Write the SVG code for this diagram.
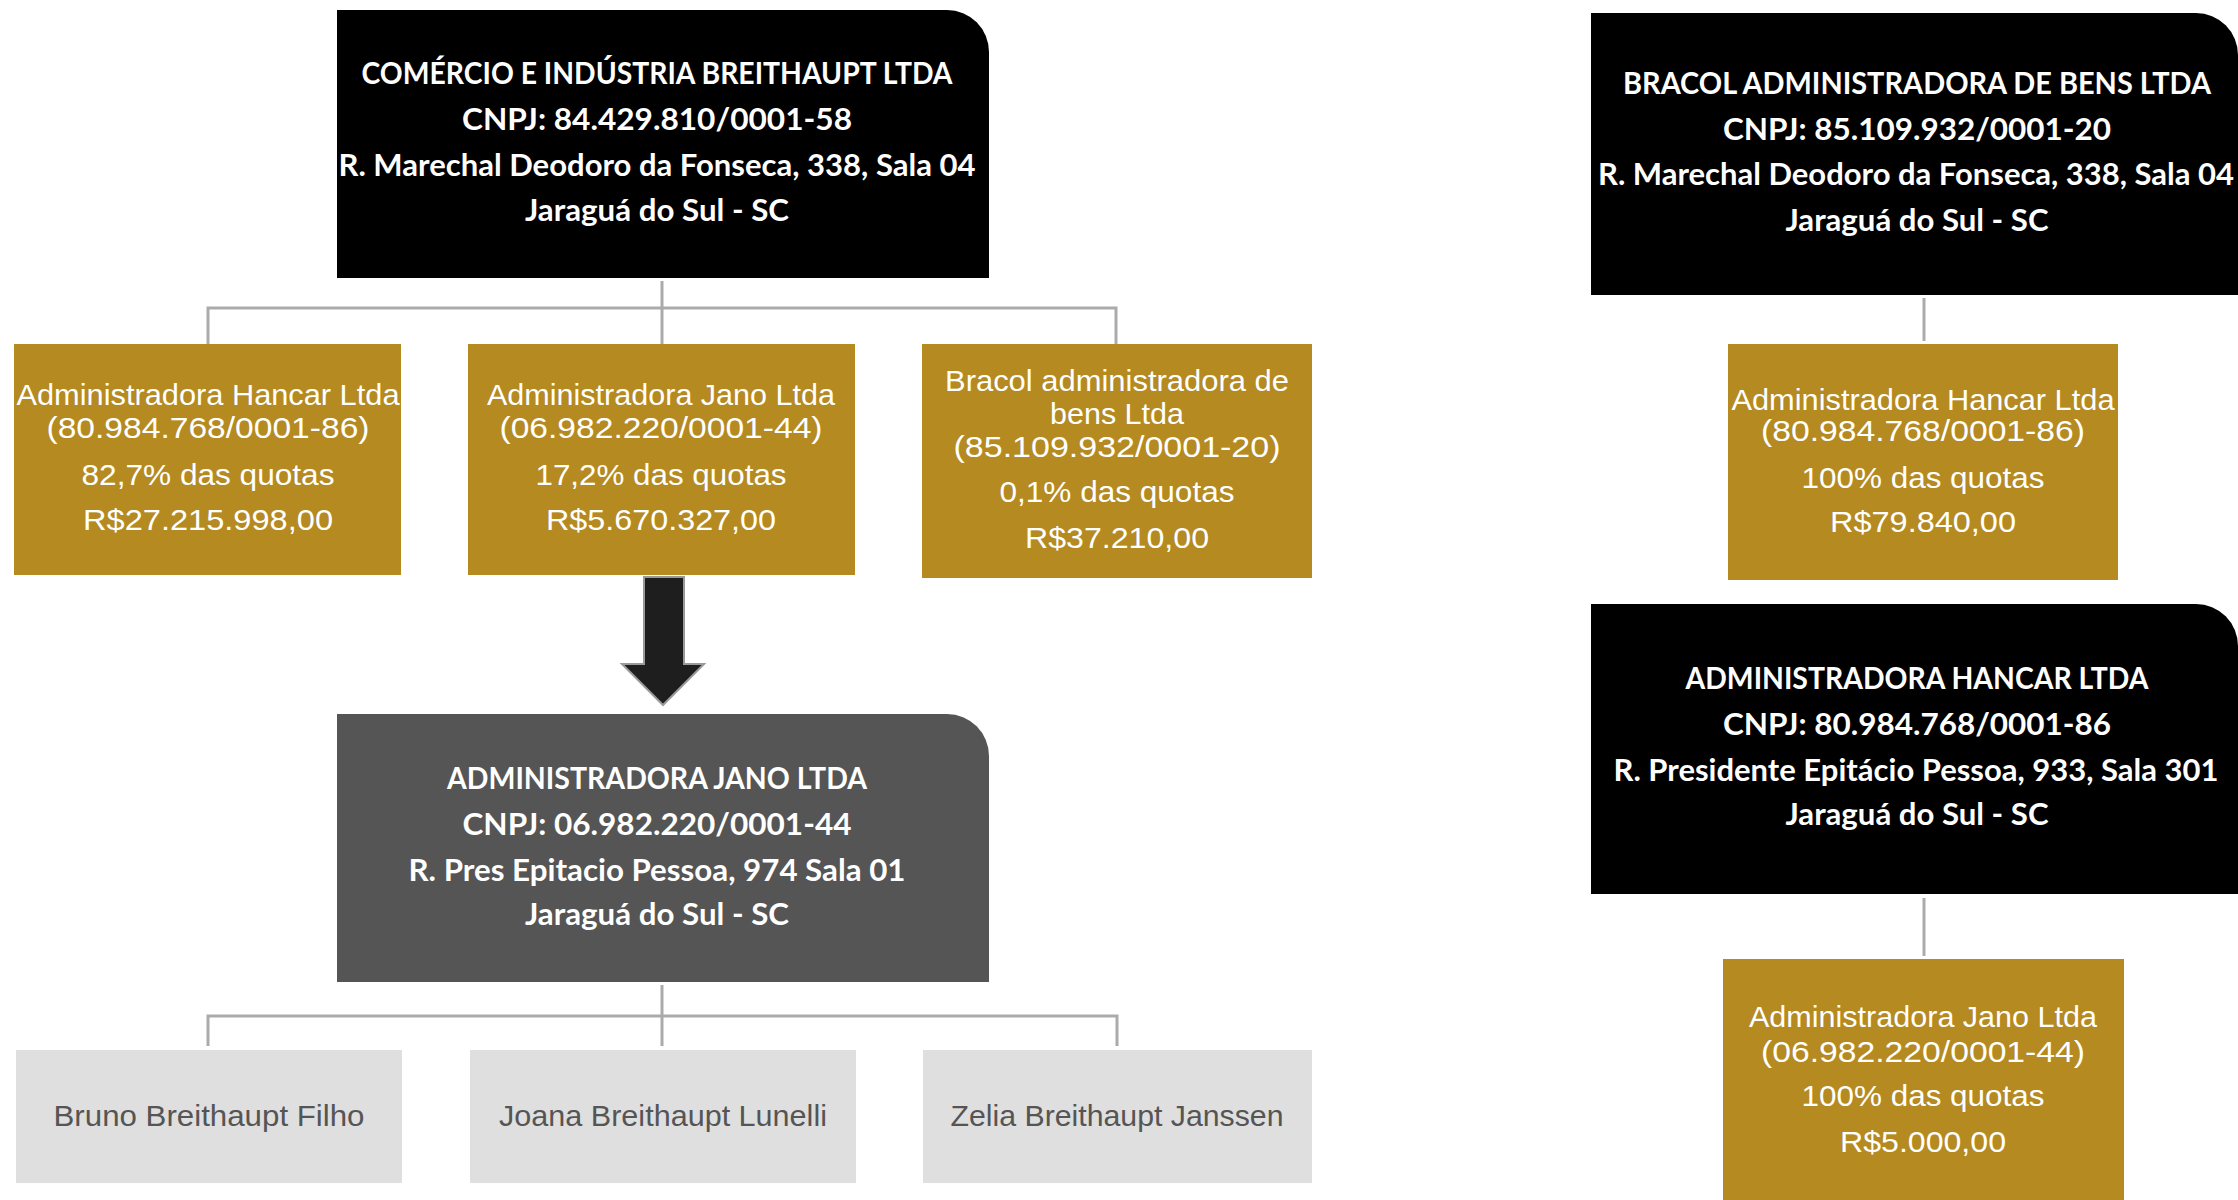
<svg xmlns="http://www.w3.org/2000/svg" width="2238" height="1200" viewBox="0 0 2238 1200">
<style>
.hdr{font-family:"Lato","Open Sans","Liberation Sans",sans-serif;font-weight:700;font-size:30px;fill:#fff;text-anchor:middle}
.gold{fill:#B48A21}
.gt{font-family:"Liberation Sans","Arial",sans-serif;font-size:30px;fill:#fff;text-anchor:middle}
.gray{fill:#DFDFDF}
.pt{font-family:"Liberation Sans","Arial",sans-serif;font-size:30px;fill:#555;text-anchor:middle}
.con{fill:none;stroke:#ABABAB;stroke-width:3}
</style>
<rect width="2238" height="1200" fill="#fff"/>
<g id="connectors">
<path class="con" d="M662 281V308M208 344V308H1116V344M662 308V344"/>
<path class="con" d="M662 985V1016M208 1046V1016H1117V1046M662 1016V1046"/>
<path class="con" d="M1924 298V341"/>
<path class="con" d="M1924 898V956"/>
<path d="M644 577H684V664H704L663 705L622 664H644Z" fill="#1E1E1E" stroke="#999" stroke-width="2"/>
</g>
<g id="node-breithaupt">
<path d="M337 10H947A42 42 0 0 1 989 52V278H337Z" fill="#000"/>
<text class="hdr" x="657" y="84" textLength="591" lengthAdjust="spacingAndGlyphs">COMÉRCIO E INDÚSTRIA BREITHAUPT LTDA</text>
<text class="hdr" x="657" y="130" textLength="390" lengthAdjust="spacingAndGlyphs">CNPJ: 84.429.810/0001-58</text>
<text class="hdr" x="657" y="176" textLength="637" lengthAdjust="spacingAndGlyphs">R. Marechal Deodoro da Fonseca, 338, Sala 04</text>
<text class="hdr" x="657" y="221" textLength="264" lengthAdjust="spacingAndGlyphs">Jaraguá do Sul - SC</text>
</g>
<g id="node-hancar1">
<rect class="gold" x="14" y="344" width="387" height="231"/>
<text class="gt" x="208" y="405" textLength="383" lengthAdjust="spacingAndGlyphs">Administradora Hancar Ltda</text>
<text class="gt" x="208" y="438" textLength="323" lengthAdjust="spacingAndGlyphs">(80.984.768/0001-86)</text>
<text class="gt" x="208" y="485" textLength="253" lengthAdjust="spacingAndGlyphs">82,7% das quotas</text>
<text class="gt" x="208" y="530" textLength="250" lengthAdjust="spacingAndGlyphs">R$27.215.998,00</text>
</g>
<g id="node-jano1">
<rect class="gold" x="468" y="344" width="387" height="231"/>
<text class="gt" x="661" y="405" textLength="348" lengthAdjust="spacingAndGlyphs">Administradora Jano Ltda</text>
<text class="gt" x="661" y="438" textLength="323" lengthAdjust="spacingAndGlyphs">(06.982.220/0001-44)</text>
<text class="gt" x="661" y="485" textLength="251" lengthAdjust="spacingAndGlyphs">17,2% das quotas</text>
<text class="gt" x="661" y="530" textLength="230" lengthAdjust="spacingAndGlyphs">R$5.670.327,00</text>
</g>
<g id="node-bracol1">
<rect class="gold" x="922" y="344" width="390" height="234"/>
<text class="gt" x="1117" y="391" textLength="344" lengthAdjust="spacingAndGlyphs">Bracol administradora de</text>
<text class="gt" x="1117" y="424" textLength="134" lengthAdjust="spacingAndGlyphs">bens Ltda</text>
<text class="gt" x="1117" y="457" textLength="327" lengthAdjust="spacingAndGlyphs">(85.109.932/0001-20)</text>
<text class="gt" x="1117" y="502" textLength="235" lengthAdjust="spacingAndGlyphs">0,1% das quotas</text>
<text class="gt" x="1117" y="548" textLength="184" lengthAdjust="spacingAndGlyphs">R$37.210,00</text>
</g>
<g id="node-jano">
<path d="M337 714H947A42 42 0 0 1 989 756V982H337Z" fill="#555"/>
<text class="hdr" x="657" y="789" textLength="420" lengthAdjust="spacingAndGlyphs">ADMINISTRADORA JANO LTDA</text>
<text class="hdr" x="657" y="835" textLength="389" lengthAdjust="spacingAndGlyphs">CNPJ: 06.982.220/0001-44</text>
<text class="hdr" x="657" y="881" textLength="497" lengthAdjust="spacingAndGlyphs">R. Pres Epitacio Pessoa, 974 Sala 01</text>
<text class="hdr" x="657" y="925" textLength="264" lengthAdjust="spacingAndGlyphs">Jaraguá do Sul - SC</text>
</g>
<g id="node-bruno">
<rect class="gray" x="16" y="1050" width="386" height="133"/>
<text class="pt" x="209" y="1126" textLength="311" lengthAdjust="spacingAndGlyphs">Bruno Breithaupt Filho</text>
</g>
<g id="node-joana">
<rect class="gray" x="470" y="1050" width="386" height="133"/>
<text class="pt" x="663" y="1126" textLength="328" lengthAdjust="spacingAndGlyphs">Joana Breithaupt Lunelli</text>
</g>
<g id="node-zelia">
<rect class="gray" x="923" y="1050" width="389" height="133"/>
<text class="pt" x="1117" y="1126" textLength="333" lengthAdjust="spacingAndGlyphs">Zelia Breithaupt Janssen</text>
</g>
<g id="node-bracol">
<path d="M1591 13H2196A42 42 0 0 1 2238 55V295H1591Z" fill="#000"/>
<text class="hdr" x="1917" y="94" textLength="588" lengthAdjust="spacingAndGlyphs">BRACOL ADMINISTRADORA DE BENS LTDA</text>
<text class="hdr" x="1917" y="140" textLength="388" lengthAdjust="spacingAndGlyphs">CNPJ: 85.109.932/0001-20</text>
<text class="hdr" x="1916" y="185" textLength="636" lengthAdjust="spacingAndGlyphs">R. Marechal Deodoro da Fonseca, 338, Sala 04</text>
<text class="hdr" x="1917" y="231" textLength="263" lengthAdjust="spacingAndGlyphs">Jaraguá do Sul - SC</text>
</g>
<g id="node-hancar2">
<rect class="gold" x="1728" y="344" width="390" height="236"/>
<text class="gt" x="1923" y="410" textLength="383" lengthAdjust="spacingAndGlyphs">Administradora Hancar Ltda</text>
<text class="gt" x="1923" y="441" textLength="324" lengthAdjust="spacingAndGlyphs">(80.984.768/0001-86)</text>
<text class="gt" x="1923" y="488" textLength="243" lengthAdjust="spacingAndGlyphs">100% das quotas</text>
<text class="gt" x="1923" y="532" textLength="186" lengthAdjust="spacingAndGlyphs">R$79.840,00</text>
</g>
<g id="node-hancar">
<path d="M1591 604H2196A42 42 0 0 1 2238 646V894H1591Z" fill="#000"/>
<text class="hdr" x="1917" y="689" textLength="463" lengthAdjust="spacingAndGlyphs">ADMINISTRADORA HANCAR LTDA</text>
<text class="hdr" x="1917" y="735" textLength="388" lengthAdjust="spacingAndGlyphs">CNPJ: 80.984.768/0001-86</text>
<text class="hdr" x="1916" y="781" textLength="605" lengthAdjust="spacingAndGlyphs">R. Presidente Epitácio Pessoa, 933, Sala 301</text>
<text class="hdr" x="1917" y="825" textLength="263" lengthAdjust="spacingAndGlyphs">Jaraguá do Sul - SC</text>
</g>
<g id="node-jano2">
<rect class="gold" x="1723" y="959" width="401" height="245"/>
<text class="gt" x="1923" y="1027" textLength="348" lengthAdjust="spacingAndGlyphs">Administradora Jano Ltda</text>
<text class="gt" x="1923" y="1062" textLength="324" lengthAdjust="spacingAndGlyphs">(06.982.220/0001-44)</text>
<text class="gt" x="1923" y="1106" textLength="243" lengthAdjust="spacingAndGlyphs">100% das quotas</text>
<text class="gt" x="1923" y="1152" textLength="166" lengthAdjust="spacingAndGlyphs">R$5.000,00</text>
</g>
</svg>
